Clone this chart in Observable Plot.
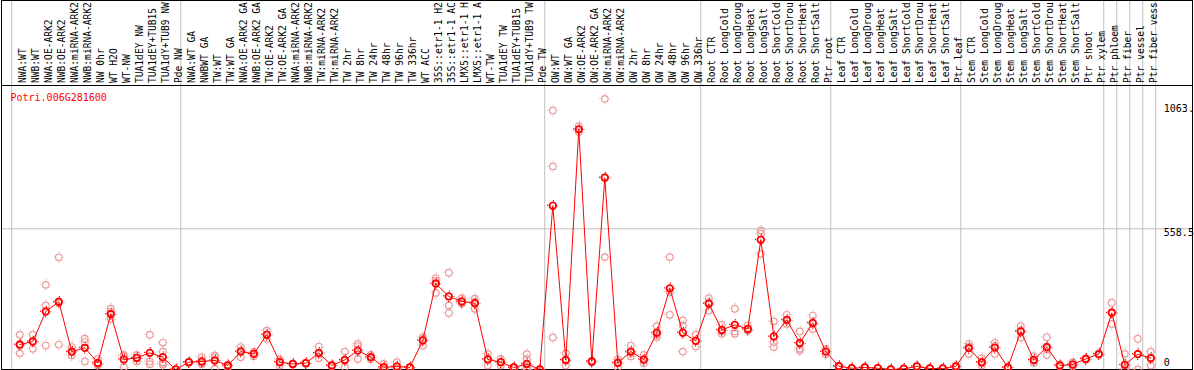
<!DOCTYPE html>
<html><head><meta charset="utf-8">
<script src="https://cdn.jsdelivr.net/npm/d3@7"></script>
<script src="https://cdn.jsdelivr.net/npm/@observablehq/plot@0.6"></script>
<style>body{margin:0;background:#fff}#chart svg{display:block}</style>
</head><body><div id="chart"></div>
<script>
const gene = "Potri.006G281600";

const samples = [
  "NWA:WT","NWB:WT","NWA:OE-ARK2","NWB:OE-ARK2","NWA:miRNA-ARK2","NWB:miRNA-ARK2","NW 0hr","WT H2O","WT-NW","TUA1dEY NW","TUA1dEY+TUB15","TUA1dY+TUB9 NW","Pde NW",
  "NWA:WT GA","NWBWT GA","TW:WT","TW:WT GA","NWA:OE-ARK2 GA","NWB:OE-ARK2 GA","TW:OE-ARK2","TW:OE-ARK2 GA","NWA:miRNA-ARK2","NWB:miRNA-ARK2","TW:miRNA-ARK2","TW:miRNA-ARK2","TW 2hr","TW 8hr","TW 24hr","TW 48hr","TW 96hr","TW 336hr","WT ACC","35S::etr1-1 H2","35S::etr1-1 AC","LMX5::etr1-1 H","LMX5::etr1-1 A","WT-TW","TUA1dEY TW","TUA1dEY+TUB15","TUA1dY+TUB9 TW","Pde TW",
  "OW:WT","OW:WT GA","OW:OE-ARK2","OW:OE-ARK2 GA","OW:miRNA-ARK2","OW:miRNA-ARK2","OW 2hr","OW 8hr","OW 24hr","OW 48hr","OW 96hr","OW 336hr",
  "Root CTR","Root LongCold","Root LongDroug","Root LongHeat","Root LongSalt","Root ShortCold","Root ShortDrou","Root ShortHeat","Root ShortSalt","Ptr root",
  "Leaf CTR","Leaf LongCold","Leaf LongDroug","Leaf LongHeat","Leaf LongSalt","Leaf ShortCold","Leaf ShortDrou","Leaf ShortHeat","Leaf ShortSalt","Ptr leaf",
  "Stem CTR","Stem LongCold","Stem LongDroug","Stem LongHeat","Stem LongSalt","Stem ShortCold","Stem ShortDrou","Stem ShortHeat","Stem ShortSalt","Ptr shoot","Ptr xylem","Ptr phloem","Ptr fiber","Ptr vessel","Ptr fiber vess"
];

// number of samples in each separated block
const groupSizes = [13, 28, 12, 10, 10, 11, 1, 1, 1, 1];

const means = [
  99,111,230,269,71,86,26,220,40,46,66,49,0,
  29,32,36,16,71,62,138,29,22,25,66,16,38,75,49,9,12,8,115,341,290,270,263,40,29,8,22,0,
  650,38,953,32,761,26,71,40,146,322,146,114,
  261,157,177,161,515,131,197,105,185,71,
  13,5,8,5,0,3,12,4,4,12,
  85,29,87,8,151,38,89,16,20,42,61,225,19,61,45
];

const replicates = [
  [138,95,64],[138,113,82],[336,254,95],[445,263,99],[89,68,56],[122,109,32],[42,20,16],[241,230,201],[58,53,9],[58,48,32],[138,32,21],[107,71,29,22,19],[0,0,0],
  [31,29,27],[49,26,21],[56,48,3],[19,19,9],[89,75,49],[69,64,53],[154,138,122],[40,31,16],[24,22,20],[27,25,23],[91,62,45],[19,16,13],[71,35,9],[102,93,42],[58,48,42],[22,4,2],[29,5,3],[10,8,6],[128,120,95],[363,353,304],[384,254,224],[283,268,261],[281,268,241],[62,42,16],[42,29,16],[10,8,6],[61,42,9,2,0],[0,0,0],
  [1028,806,127],[64,35,16],[966,953,942],[34,32,28],[1074,763,446],[40,29,9],[95,66,52],[58,37,25],[172,138,128],[446,307,217],[195,175,71],[138,113,91],
  [283,266,234],[177,152,142],[241,151,142],[175,155,154],[552,539,459],[191,109,89],[217,194,181],[151,82,75],[214,180,161],[82,71,60],
  [16,13,10],[6,5,4],[10,8,6],[6,5,4],[2,1,0],[4,3,2],[14,12,10],[5,4,3],[5,4,3],[15,12,9],
  [102,91,62],[45,26,16],[106,93,62],[10,8,6],[172,154,127],[53,35,26],[128,81,58],[19,16,13],[29,18,13],[45,42,39],[64,61,58],[265,228,181],[62,2,0],[122,61,0],[71,48,16]
];

const yTickValues = [0, 558.5, 1063];
const yTickLabels = ["0", "558.5", "1063."];
const yMax = 1127;

const reps = replicates.flatMap((vals, i) => vals.map(v => ({i, v})));
const bounds = [0, ...d3.cumsum(groupSizes)];
const meanRows = means.map((v, i) => ({i, v}));

const RED = "#ff0000", PINK = "#ec9a9a", GRID = "#c0c0c0";

function outerBox(index, scales, values, dims) {
  return d3.create("svg:rect")
    .attr("x", dims.marginLeft + 0.5).attr("y", 0.5)
    .attr("width", dims.width - dims.marginLeft - dims.marginRight)
    .attr("height", dims.height - dims.marginBottom)
    .attr("fill", "none").attr("stroke", "black").node();
}

const tickLabel = (k, opts) => Plot.text([k], {x: () => samples.length, y: d => yTickValues[d], text: d => yTickLabels[d], textAnchor: "start", fill: "black", ...opts});

const chart = Plot.plot({
  width: 1194, height: 370,
  marginTop: 85, marginBottom: 1, marginLeft: 1, marginRight: 2,
  style: {fontFamily: "'DejaVu Sans Mono', monospace", fontSize: "10px", background: "#fff"},
  x: {type: "linear", domain: [0, samples.length - 1], range: [19.3, 1150.3], axis: null},
  y: {domain: [0, yMax], axis: null},
  marks: [
    Plot.ruleX(bounds, {x: d => d - 0.62, stroke: GRID, insetTop: -85}),
    Plot.ruleY([yTickValues[1]], {stroke: GRID}),
    Plot.frame({stroke: "black"}),
    outerBox,
    Plot.text(samples, {x: (d, i) => i, frameAnchor: "top", dy: -2.5, dx: -0.5, rotate: -90, textAnchor: "start", fill: "black", fontSize: 9.6}),
    Plot.text([gene], {frameAnchor: "top-left", dx: 9, dy: 8, lineAnchor: "top", textAnchor: "start", fill: RED, fontSize: 10}),
    tickLabel(2, {lineAnchor: "top", dy: 3}),
    tickLabel(1, {lineAnchor: "top", dy: 0}),
    tickLabel(0, {lineAnchor: "bottom", dy: -4}),
    Plot.dot(reps, {x: "i", y: "v", r: 3.3, stroke: PINK, strokeWidth: 1.2}),
    Plot.dot(reps, {x: "i", y: "v", r: 5, stroke: PINK, strokeWidth: 1, strokeDasharray: "1.2 6.65", strokeDashoffset: 0.6}),
    Plot.line(meanRows, {x: "i", y: "v", stroke: RED, strokeWidth: 1}),
    Plot.dot(meanRows, {x: "i", y: "v", r: 3.3, stroke: RED, strokeWidth: 1.8}),
    Plot.dot(meanRows, {x: "i", y: "v", r: 5.2, stroke: RED, strokeWidth: 1.2, strokeDasharray: "1.2 6.97", strokeDashoffset: 0.6})
  ]
});
document.getElementById("chart").append(chart);
</script>
</body></html>
